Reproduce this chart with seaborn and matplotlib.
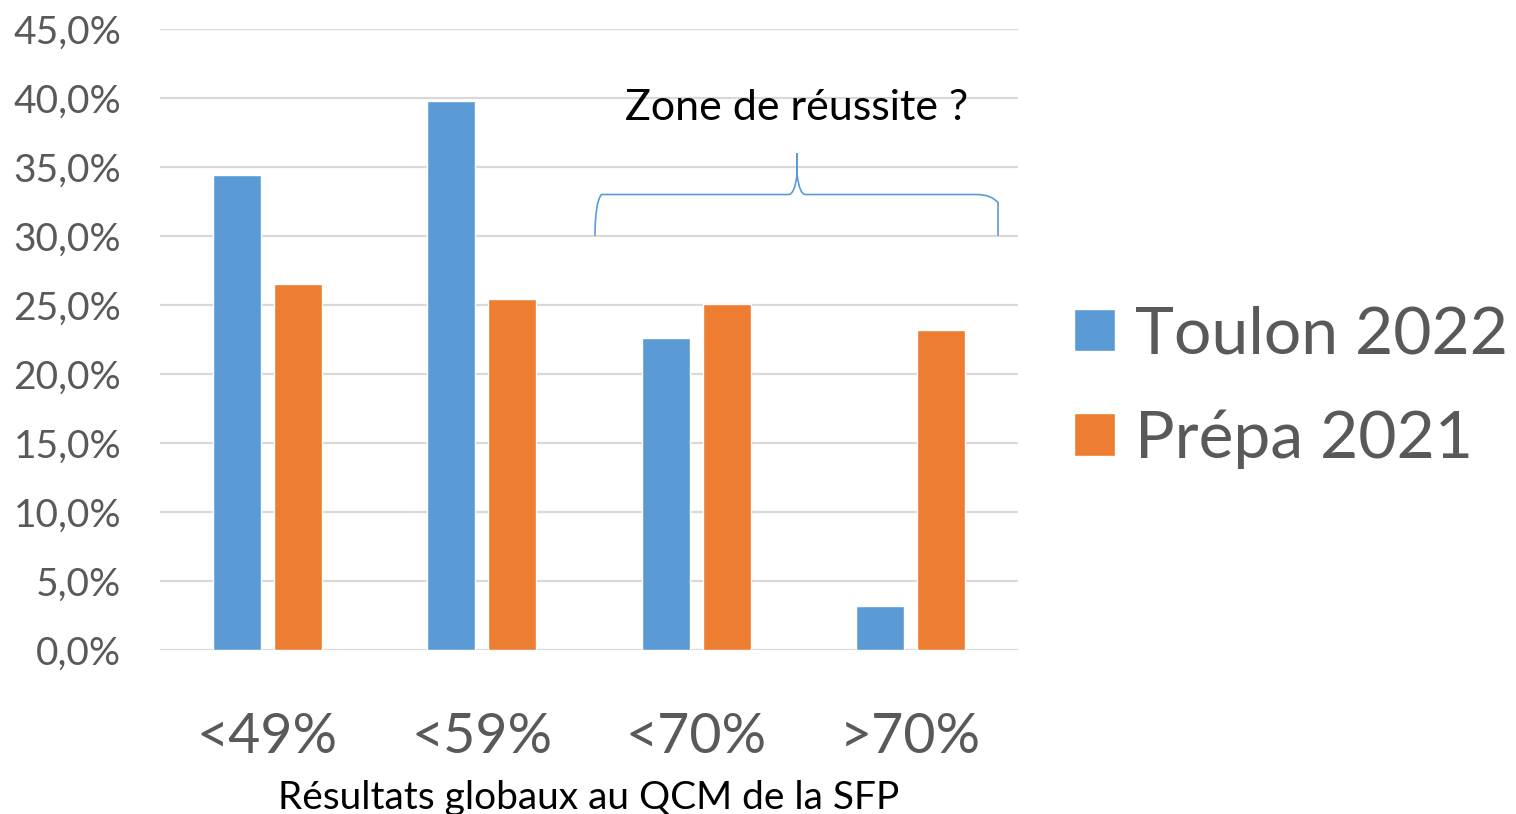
import numpy as np
import pandas as pd
import matplotlib
matplotlib.use("Agg")
import matplotlib.pyplot as plt
from matplotlib.path import Path
from matplotlib.patches import PathPatch
import seaborn as sns

# donnees (en %)
categories = ["<49%", "<59%", "<70%", ">70%"]
toulon_2022 = [34.4, 39.8, 22.6, 3.2]
prepa_2021 = [26.5, 25.4, 25.1, 23.2]
series = ["Toulon 2022", "Prépa 2021"]
couleurs = ["#5B9BD5", "#ED7D31"]
yticks = [0, 5, 10, 15, 20, 25, 30, 35, 40, 45]

df = pd.DataFrame({
    "categorie": categories * 2,
    "valeur": toulon_2022 + prepa_2021,
    "serie": [series[0]] * 4 + [series[1]] * 4,
})

sns.set_style("white")
plt.rcParams["font.family"] = ["Lato", "DejaVu Sans"]

fig = plt.figure(figsize=(15.16, 8.14), dpi=100)
ax = fig.add_axes([0.1055, 0.2015, 0.566, 0.763])

sns.barplot(data=df, x="categorie", y="valeur", hue="serie", palette=couleurs,
            width=0.569, gap=0.21, saturation=1, ax=ax, zorder=3, legend=True)

ax.set_xlim(-0.5, 3.5)
ax.set_ylim(0, 45)
ax.set_yticks(yticks)
ax.set_yticklabels([f"{v:.1f}%".replace(".", ",") for v in yticks])
ax.yaxis.grid(True, color="#D9D9D9", lw=1.6, zorder=0)
ax.set_axisbelow(True)
for s in ax.spines.values():
    s.set_visible(False)
ax.tick_params(axis="y", length=0, pad=28, labelsize=28, labelcolor="#595959")
ax.tick_params(axis="x", length=0, pad=45, labelsize=40, labelcolor="#595959")
ax.set_ylabel("")
ax.set_xlabel("Résultats globaux au QCM de la SFP", fontsize=28, color="black", labelpad=12)

# accolade "zone de reussite"
x0, x1, xm = 1.528, 3.407, 2.47
yb, yh, yp = 30.0, 33.0, 36.0
verts = [(x0, yb), (x0, yh - 0.6), (x0 + 0.03, yh), (x0 + 0.1, yh),
         (xm - 0.04, yh), (xm - 0.01, yh), (xm, yp - 1.5), (xm, yp),
         (xm, yp), (xm, yp - 1.5), (xm + 0.01, yh), (xm + 0.04, yh),
         (x1 - 0.1, yh), (x1 - 0.03, yh), (x1, yh - 0.6), (x1, yb)]
codes = [Path.MOVETO, Path.CURVE3, Path.CURVE3, Path.LINETO,
         Path.LINETO, Path.CURVE3, Path.CURVE3, Path.LINETO,
         Path.MOVETO, Path.LINETO, Path.CURVE3, Path.CURVE3,
         Path.LINETO, Path.CURVE3, Path.CURVE3, Path.LINETO]
ax.add_patch(PathPatch(Path(verts, codes), fill=False, edgecolor="#5B9BD5", lw=1.2, zorder=4))
ax.text(xm, 39.3, "Zone de réussite ?", ha="center", va="center", fontsize=31, color="black")

handles, labels = ax.get_legend_handles_labels()
ax.get_legend().remove()
fig.legend(handles, labels, loc="center left", bbox_to_anchor=(1074 / 1516, 1 - 387 / 814),
           frameon=False, fontsize=47.5, labelcolor="#595959", handlelength=0.62, handleheight=0.62,
           handletextpad=0.3, labelspacing=0.68, borderpad=0, borderaxespad=0)

fig.savefig("out.png", dpi=100)
